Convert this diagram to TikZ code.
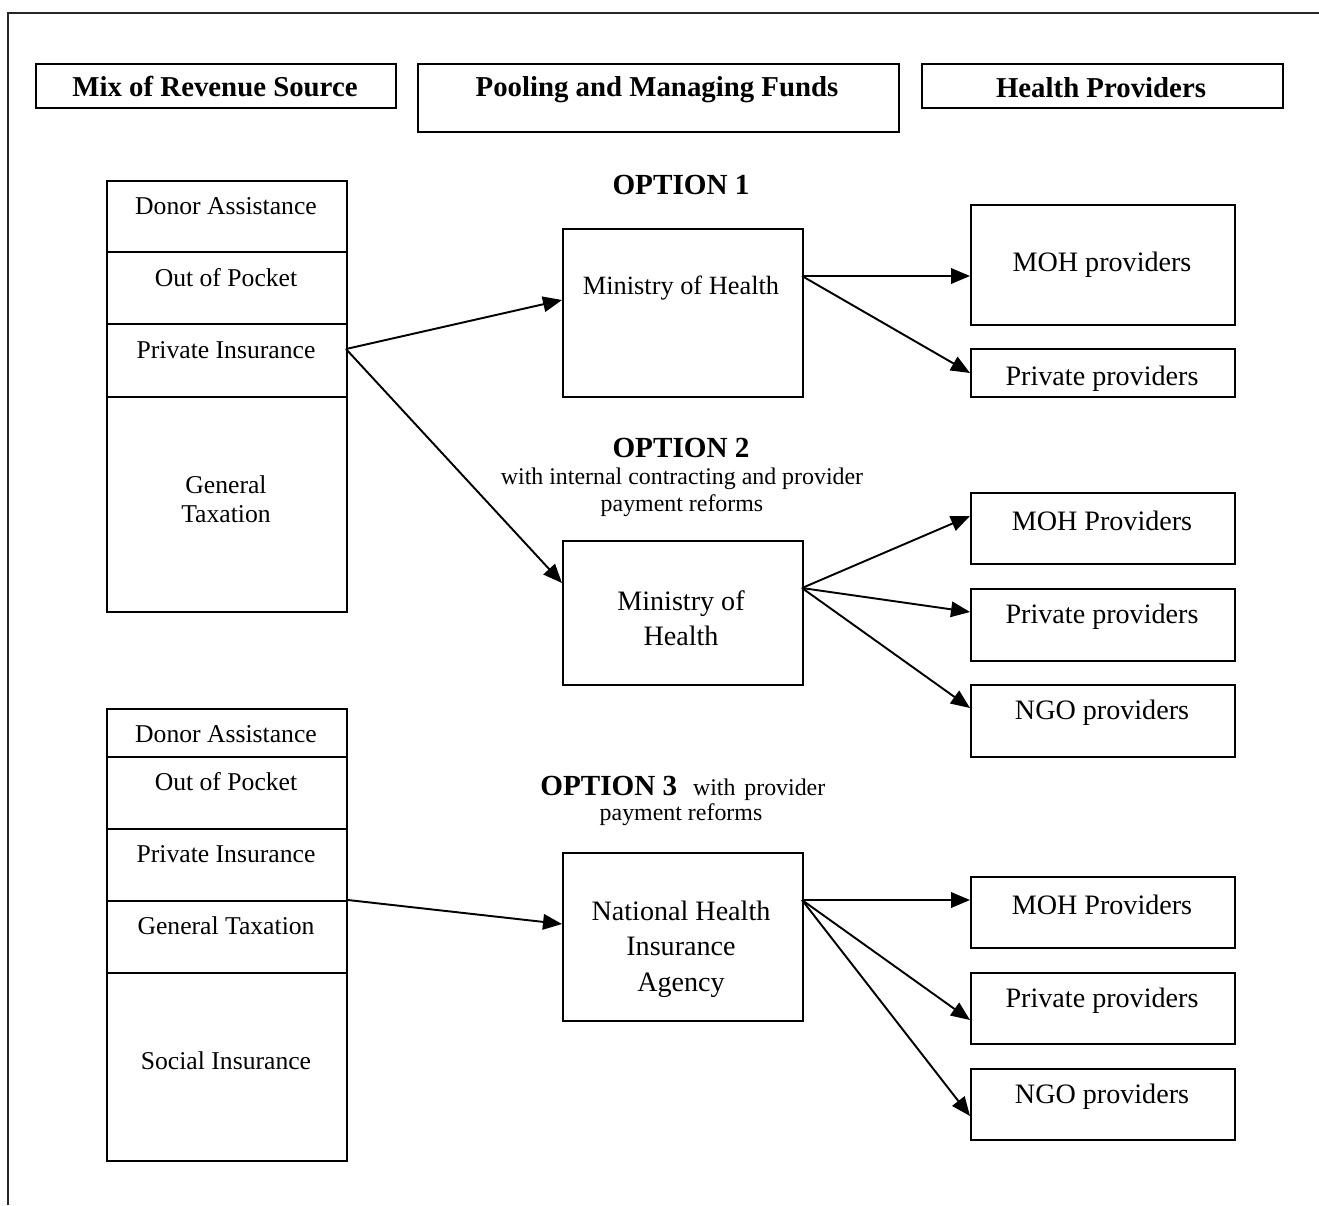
\documentclass[tikz,border=0pt]{standalone}
\usepackage{fontspec}
\setmainfont{Liberation Serif}
\usetikzlibrary{arrows.meta}
\tikzset{
  box/.style={draw, line width=1.1pt, inner sep=0, anchor=north west},
  cell/.style={box, minimum width=4.8cm},
  prov/.style={box, minimum width=5.28cm},
  txt/.style={inner sep=0, align=center, font=\fontsize{14.6}{17}\selectfont},
  ptxt/.style={inner sep=0, align=center, font=\fontsize{16}{20.2}\selectfont},
  htxt/.style={inner sep=0, align=center, font=\bfseries\fontsize{16.4}{20}\selectfont},
  stxt/.style={inner sep=0, align=center, font=\fontsize{13.6}{15.3}\selectfont},
  arr/.style={-{Triangle[length=0.38cm,width=0.31cm]}, line width=1.1pt},
  frame/.style={line width=1.2pt, draw=black!85}
}
\begin{document}
\begin{tikzpicture}[x=0.02cm,y=-0.02cm]
\useasboundingbox (0,0) rectangle (1319,1205);
% frame
\draw[frame] (8,1205) -- (8,13) -- (1319,13);

% headers
\node[box, minimum width=7.2cm, minimum height=0.88cm] (mix) at (35,63) {};
\node[box, minimum width=9.62cm, minimum height=1.36cm] (pool) at (417,63) {};
\node[box, minimum width=7.22cm, minimum height=0.88cm] (hp) at (921,63) {};
\node[htxt] (tmix) at (215,87) {Mix of Revenue Source};
\node[htxt] (tpool) at (657,90) {Pooling and Managing Funds};
\node[htxt] (thp) at (1101,88) {Health Providers};

% stack 1
\node[cell, minimum height=1.42cm] (d1) at (106,180) {};
\node[cell, minimum height=1.44cm] (o1) at (106,251) {};
\node[cell, minimum height=1.46cm] (p1) at (106,323) {};
\node[cell, minimum height=4.3cm] (g1) at (106,396) {};
\node[txt] (td1) at (226,206) {Donor Assistance};
\node[txt] (to1) at (226,278) {Out of Pocket};
\node[txt] (tp1) at (226,350) {Private Insurance};
\node[txt] (tg1) at (226,499) {General\\[-0.5pt]Taxation};

% stack 2
\node[cell, minimum height=0.96cm] (d2) at (106,708) {};
\node[cell, minimum height=1.44cm] (o2) at (106,756) {};
\node[cell, minimum height=1.44cm] (p2) at (106,828) {};
\node[cell, minimum height=1.44cm] (g2) at (106,900) {};
\node[cell, minimum height=3.76cm] (s2) at (106,972) {};
\node[txt] (td2) at (226,734) {Donor Assistance};
\node[txt] (to2) at (226,782) {Out of Pocket};
\node[txt] (tp2) at (226,854) {Private Insurance};
\node[txt] (tg2) at (226,926) {General Taxation};
\node[txt] (ts2) at (226,1061) {Social Insurance};

% option labels
\node[htxt, font=\bfseries\fontsize{16.6}{20}\selectfont] (op1) at (681,185) {OPTION 1};
\node[htxt, font=\bfseries\fontsize{16.6}{20}\selectfont] (op2) at (681,448) {OPTION 2};
\node[stxt] (op2s) at (682,492) {with internal contracting and provider\\payment reforms};
\node[stxt, anchor=base west] (op3) at (540,795) {{\bfseries\fontsize{16.6}{20}\selectfont OPTION 3}\hspace{9pt}with\hspace{5pt}provider};
\node[stxt] (op3s) at (681,815) {payment reforms};

% pooling boxes
\node[cell, minimum height=3.36cm] (moh1) at (562,228) {};
\node[ptxt, font=\fontsize{15}{19}\selectfont] (tmoh1) at (681,288) {Ministry of Health};
\node[cell, minimum height=2.88cm] (moh2) at (562,540) {};
\node[ptxt, font=\fontsize{16}{19.8}\selectfont] (tmoh2) at (681,618) {Ministry of\\Health};
\node[cell, minimum height=3.36cm] (nhia) at (562,852) {};
\node[ptxt] (tnhia) at (681,949) {National Health\\Insurance\\Agency};

% providers option 1
\node[prov, minimum height=2.4cm] (mp1) at (970,204) {};
\node[ptxt] (tmp1) at (1102,265) {MOH providers};
\begin{scope}
  \clip (970,348) rectangle (1234,396);
  \node[ptxt] (tpp1) at (1102,379) {Private providers};
\end{scope}
\node[prov, minimum height=0.96cm] (pp1) at (970,348) {};

% providers option 2
\node[prov, minimum height=1.42cm] (mp2) at (970,492) {};
\node[ptxt] (tmp2) at (1102,521) {MOH Providers};
\node[prov, minimum height=1.44cm] (pp2) at (970,588) {};
\node[ptxt] (tpp2) at (1102,617) {Private providers};
\node[prov, minimum height=1.44cm] (np2) at (970,684) {};
\node[ptxt] (tnp2) at (1102,713) {NGO providers};

% providers option 3
\node[prov, minimum height=1.42cm] (mp3) at (970,876) {};
\node[ptxt] (tmp3) at (1102,905) {MOH Providers};
\node[prov, minimum height=1.42cm] (pp3) at (970,972) {};
\node[ptxt] (tpp3) at (1102,1001) {Private providers};
\node[prov, minimum height=1.42cm] (np3) at (970,1068) {};
\node[ptxt] (tnp3) at (1102,1097) {NGO providers};

% connector points
\coordinate (s1) at (346,349);
\coordinate (in1) at (562,300);
\coordinate (in2) at (562,583);
\coordinate (m1o) at (802,276);
\coordinate (m2o) at (802,588);
\coordinate (m3o) at (802,900);
\coordinate (e21) at (970,516);
\coordinate (e22) at (970,612);
\coordinate (e23) at (970,708);
\coordinate (e32) at (970,1020);
\coordinate (e33) at (970,1116);
\coordinate (in3) at (562,924);

% connectors
\draw[arr] (s1) -- (in1);
\draw[arr] (s1) -- (in2);
\draw[arr] (m1o) -- (mp1.west |- m1o);
\draw[arr] (m1o) -- (pp1.west);
\draw[arr] (m2o) -- (e21);
\draw[arr] (m2o) -- (e22);
\draw[arr] (m2o) -- (e23);
\draw[arr] (g2.north east) -- (in3);
\draw[arr] (m3o) -- (mp3.west |- m3o);
\draw[arr] (m3o) -- (e32);
\draw[arr] (m3o) -- (e33);
\end{tikzpicture}
\end{document}
